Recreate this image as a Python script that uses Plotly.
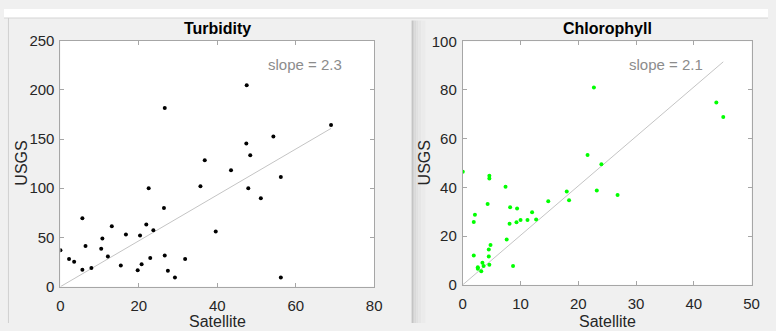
import plotly.graph_objects as go

W, H = 776, 331

# ---- Data ----
turb_sat = [0, 2.2, 3.5, 5.6, 5.6, 6.4, 7.9, 10.4, 10.7, 12.1, 13.1, 15.4, 16.7, 19.7,
            20.3, 20.7, 21.9, 22.5, 22.9, 23.7, 26.4, 26.6, 27.4, 29.2, 31.8, 35.7,
            39.6, 43.5, 47.9, 51.1, 56.2, 56.2,
            47.5, 26.6, 69.0, 54.3, 47.4, 48.4, 36.8]
turb_usgs = [37.1, 28.1, 25.2, 69.4, 17.1, 41.3, 19.0, 38.4, 49.0, 30.6, 61.3, 21.6, 52.9, 16.8,
             51.9, 22.9, 63.2, 100, 29.0, 57.4, 80, 31.6, 16.1, 9.4, 28.1, 101.9,
             56.1, 118.4, 100, 89.7, 111.3, 9.4,
             204.7, 181.5, 164.3, 152.6, 145.5, 133.6, 128.5]
turb_slope = 2.33

chl_sat = [22.7, 43.9, 45.1, 21.6, 24.0,
           0, 4.6, 4.6, 7.4, 18.0, 23.2, 26.8, 18.4, 14.8, 4.3, 8.2, 9.4, 12.0, 2.1,
           12.7, 10.0, 11.2, 9.3, 8.1, 1.9, 7.6, 4.8, 4.5, 4.5, 1.9, 3.4, 3.6, 2.6,
           2.6, 4.6, 8.7, 3.2]
chl_usgs = [81.0, 74.8, 68.9, 53.3, 49.5,
            46.4, 44.8, 43.6, 40.3, 38.3, 38.7, 36.9, 34.7, 34.3, 33.2, 31.8, 31.3, 29.8, 28.8,
            26.8, 26.6, 26.6, 25.7, 25.1, 25.8, 18.6, 16.3, 14.5, 11.6, 12.0, 9.0, 7.7, 7.2,
            6.6, 8.2, 7.7, 5.5]
chl_slope = 2.03

titles = ["Turbidity", "Chlorophyll"]
slope_labels = ["slope = 2.3", "slope = 2.1"]
turb_ticks = [0, 20, 40, 60, 80]
turb_yticks = [0, 50, 100, 150, 200, 250]
chl_ticks = [0, 10, 20, 30, 40, 50]
chl_yticks = [0, 20, 40, 60, 80, 100]

# ---- Layout geometry (pixels) ----
def px(x):
    return x / W

def py(y):
    return 1 - y / H

L1 = (57.3, 376.0, 33.3, 292.7)
L2 = (466.0, 759.3, 34.0, 290.7)

fig = go.Figure()

tline_x = [0, max(turb_sat)]
cline_x = [0, max(chl_sat)]

fig.add_trace(go.Scatter(x=tline_x, y=[v * turb_slope for v in tline_x], mode="lines",
                         line=dict(color="#c4c4c4", width=1), xaxis="x", yaxis="y",
                         hoverinfo="skip"))
fig.add_trace(go.Scatter(x=turb_sat, y=turb_usgs, mode="markers",
                         marker=dict(color="black", size=4), xaxis="x", yaxis="y"))
fig.add_trace(go.Scatter(x=cline_x, y=[v * chl_slope for v in cline_x], mode="lines",
                         line=dict(color="#c4c4c4", width=1), xaxis="x2", yaxis="y2",
                         hoverinfo="skip"))
fig.add_trace(go.Scatter(x=chl_sat, y=chl_usgs, mode="markers",
                         marker=dict(color="#00ff00", size=4), xaxis="x2", yaxis="y2"))

font = "Liberation Sans, Arial, Helvetica, sans-serif"
axcol = "#a6a6a6"
tickfont = dict(family=font, size=15, color="#262626")

def axis(domain, rng, ticks, anchor, standoff):
    return dict(domain=domain, range=rng, tickvals=ticks, ticks="inside", ticklen=4,
                tickcolor=axcol, showline=True, linecolor=axcol, linewidth=1,
                mirror="ticks", showgrid=False, zeroline=False, tickfont=tickfont,
                anchor=anchor, fixedrange=True, ticklabelstandoff=standoff)

fig.update_layout(
    width=W, height=H, margin=dict(l=0, r=0, t=0, b=0),
    paper_bgcolor="#f0f0f0", plot_bgcolor="white", showlegend=False,
    xaxis=axis([px(L1[0]), px(L1[1])], [0, 80], turb_ticks, "y", 5),
    yaxis=axis([py(L1[3]), py(L1[2])], [0, 250], turb_yticks, "x", 2),
    xaxis2=axis([px(L2[0]), px(L2[1])], [0, 50], chl_ticks, "y2", 5),
    yaxis2=axis([py(L2[3]), py(L2[2])], [0, 100], chl_yticks, "x2", 2),
)

shapes = [
    # top white strip and border line
    dict(type="rect", xref="paper", yref="paper", x0=0, x1=1, y0=py(9.5), y1=1,
         fillcolor="white", line=dict(width=0), layer="below"),
    dict(type="line", xref="paper", yref="paper", x0=0, x1=1, y0=py(9.5), y1=py(9.5),
         line=dict(color="#d4d4d4", width=1)),
    # left panel border
    dict(type="line", xref="paper", yref="paper", x0=px(4.5), x1=px(4.5), y0=0, y1=py(9.5),
         line=dict(color="#d0d0d0", width=1)),
]
# divider gradient
grad = [(414, 415.5, "#c4c4c4"), (415.5, 417, "#d0d0d0"), (417, 419, "#d9d9d9"),
        (419, 421, "#e0e0e0"), (421, 424, "#e6e6e6"), (424, 428, "#ebebeb")]
for a, b, c in grad:
    shapes.append(dict(type="rect", xref="paper", yref="paper", x0=px(a), x1=px(b),
                       y0=0, y1=py(12), fillcolor=c, line=dict(width=0), layer="below"))
fig.update_layout(shapes=shapes)

ann = []
for (l, r, t, b), title, xr, yr, slabel, sx, sy in [
    (L1, titles[0], "x", "y", slope_labels[0], 62.4, 226),
    (L2, titles[1], "x2", "y2", slope_labels[1], 35.2, 90.6),
]:
    cx = (l + r) / 2
    ann.append(dict(text="<b>" + title + "</b>", xref="paper", yref="paper", x=px(cx), y=py(21),
                    xanchor="center", yanchor="middle", showarrow=False,
                    font=dict(family=font, size=16, color="black")))
    ann.append(dict(text="Satellite", xref="paper", yref="paper", x=px(cx), y=py(319),
                    xanchor="center", yanchor="top", showarrow=False, borderpad=0,
                    font=dict(family=font, size=16, color="#262626")))
    ann.append(dict(text="USGS", xref="paper", yref="paper", x=px(l - 39), y=py((t + b) / 2),
                    xanchor="center", yanchor="middle", textangle=-90, showarrow=False,
                    font=dict(family=font, size=16, color="#262626")))
    ann.append(dict(text=slabel, xref=xr, yref=yr, x=sx, y=sy, xanchor="center",
                    yanchor="middle", showarrow=False,
                    font=dict(family=font, size=15, color="#8c8c8c")))
fig.update_layout(annotations=ann)

fig.write_html("out.html")
